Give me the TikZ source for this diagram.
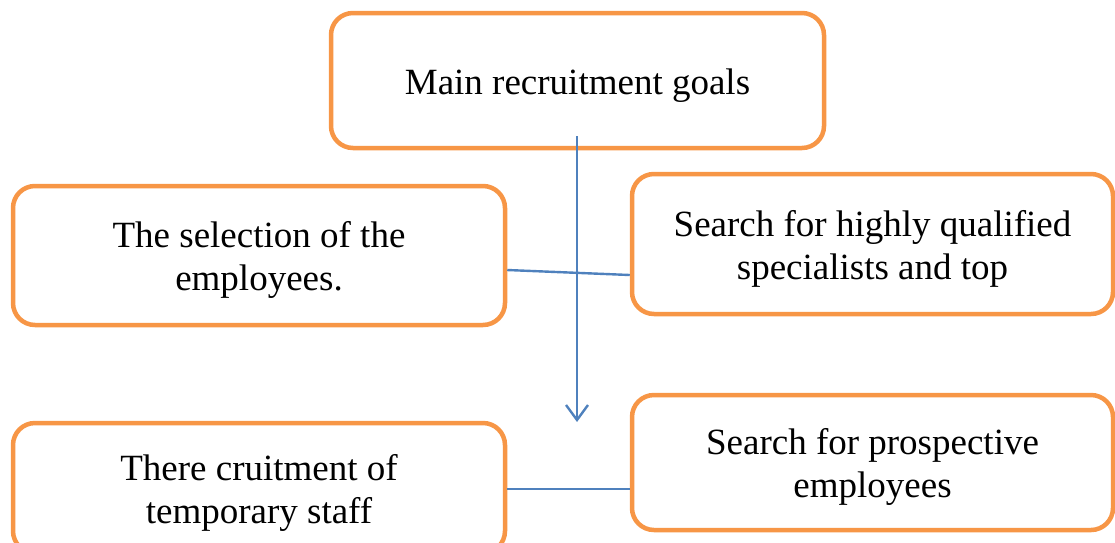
\documentclass[tikz,border=0pt]{standalone}
\usepackage{fontspec}
\setmainfont{Liberation Serif}
\usetikzlibrary{arrows.meta,calc}
\definecolor{boxorange}{HTML}{F79646}
\definecolor{lineblue}{HTML}{4F81BD}
\newcommand\boxtext[1]{\raisebox{-5pt}[\height][\depth]{\begin{tabular}{@{}c@{}}#1\end{tabular}}}
\begin{document}
\begin{tikzpicture}[x=1pt,y=-1pt,
  goalbox/.style={draw=boxorange,line width=4.5pt,rounded corners=22pt,fill=white,
    align=center,inner sep=0pt,font=\fontsize{37}{43}\selectfont},
  link/.style={draw=lineblue,line width=2.4pt}]
\useasboundingbox (0,0) rectangle (1115,542);
\node[goalbox,minimum width=493pt,minimum height=135pt] (top) at (577.5,80.5) {\boxtext{Main recruitment goals}};
\node[goalbox,minimum width=492pt,minimum height=139pt] (lm) at (259,255.5) {\boxtext{The selection of the\\employees.}};
\node[goalbox,minimum width=481pt,minimum height=140pt] (rm) at (872.5,244) {\boxtext{Search for highly qualified\\specialists and top}};
\node[goalbox,minimum width=492pt,minimum height=130pt] (lb) at (259,488) {\boxtext{There cruitment of\\temporary staff}};
\node[goalbox,minimum width=481pt,minimum height=135pt] (rb) at (872.5,462.5) {\boxtext{Search for prospective\\employees}};
\coordinate (arrowend) at (577,422);
\draw[link] ($(lm.east)+(0,14.5)$) -- ($(rm.west)+(0,31)$);
\draw[link] ($(lb.east)+(0,1)$) -- ($(rb.west)+(0,26.5)$);
\draw[link,-{Straight Barb[length=15pt,width=22pt]}] ($(top.south)+(-0.5,-14)$) -- (arrowend);
\end{tikzpicture}
\end{document}
